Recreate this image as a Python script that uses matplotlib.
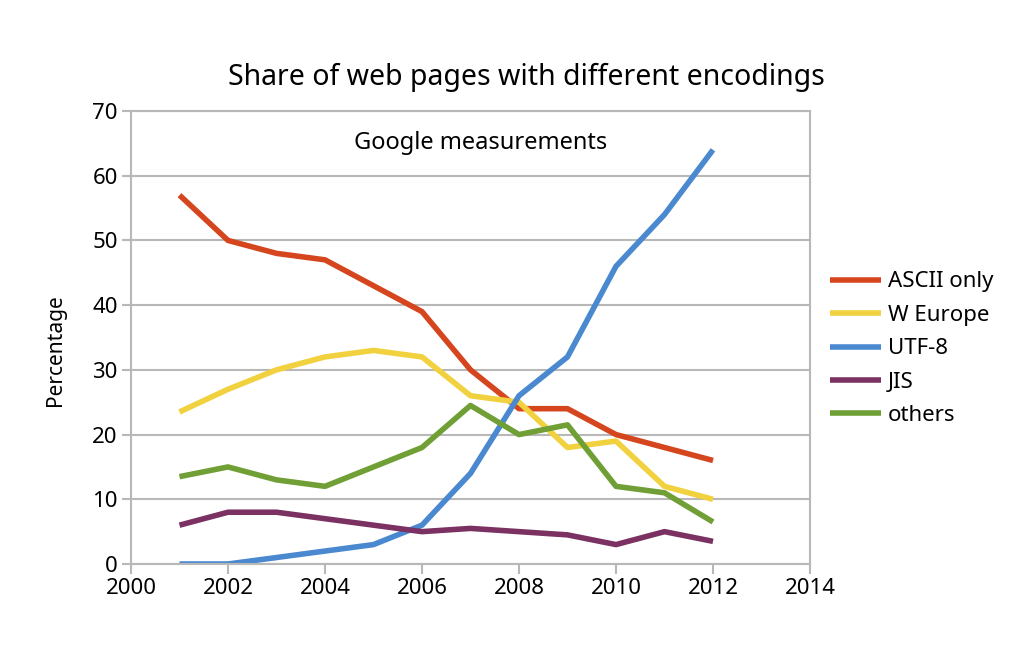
import matplotlib
matplotlib.use('Agg')
import matplotlib.pyplot as plt

plt.rcParams['font.family'] = ['Noto Sans', 'DejaVu Sans']

# values
years = [2001, 2002, 2003, 2004, 2005, 2006, 2007, 2008, 2009, 2010, 2011, 2012]
ascii_only = [57, 50, 48, 47, 43, 39, 30, 24, 24, 20, 18, 16]
w_europe = [23.5, 27, 30, 32, 33, 32, 26, 25, 18, 19, 12, 10]
utf8 = [0, 0, 1, 2, 3, 6, 14, 26, 32, 46, 54, 64]
jis = [6, 8, 8, 7, 6, 5, 5.5, 5, 4.5, 3, 5, 3.5]
others = [13.5, 15, 13, 12, 15, 18, 24.5, 20, 21.5, 12, 11, 6.5]

series = [
    ('ASCII only', ascii_only, '#d5461e'),
    ('W Europe', w_europe, '#f1d13e'),
    ('UTF-8', utf8, '#4a88d0'),
    ('JIS', jis, '#7c3163'),
    ('others', others, '#6f9f35'),
]

fig = plt.figure(figsize=(10.24, 6.54), dpi=100)
ax = fig.add_axes([131/1024, 1 - 564/654, (810-131)/1024, (564-111)/654])

for name, vals, col in series:
    ax.plot(years, vals, color=col, lw=4, label=name, solid_capstyle='butt')

ax.set_xlim(2000, 2014)
ax.set_ylim(0, 70)
ax.set_xticks(range(2000, 2015, 2))
ax.set_yticks(range(0, 71, 10))
ax.grid(axis='y', color='#b8b8b8', lw=1.5)
ax.set_axisbelow(True)
for s in ax.spines.values():
    s.set_color('#b8b8b8')
    s.set_linewidth(1.5)
ax.tick_params(axis='x', direction='out', length=7, width=1.5, color='#b8b8b8',
               labelsize=16, pad=3)
ax.tick_params(axis='y', direction='out', length=6.5, width=1.5, color='#b8b8b8',
               labelsize=16, pad=3)

# y label placed by hand, like the reference
fig.text(56/1024, 1 - 350/654, 'Percentage', rotation=90,
         ha='center', va='center', fontsize=15)

ax.text((481-131)/(810-131), (564-143)/(564-111), 'Google measurements',
        transform=ax.transAxes, ha='center', va='center', fontsize=17)
fig.text(526/1024, 1 - 77/654, 'Share of web pages with different encodings',
         ha='center', va='center', fontsize=20.5)

ax.legend(loc='center left', bbox_to_anchor=(1.0, 0.475), frameon=False,
          fontsize=16, handlelength=2.3, handletextpad=0.3, labelspacing=0.56)

fig.savefig('out.png', dpi=100)
